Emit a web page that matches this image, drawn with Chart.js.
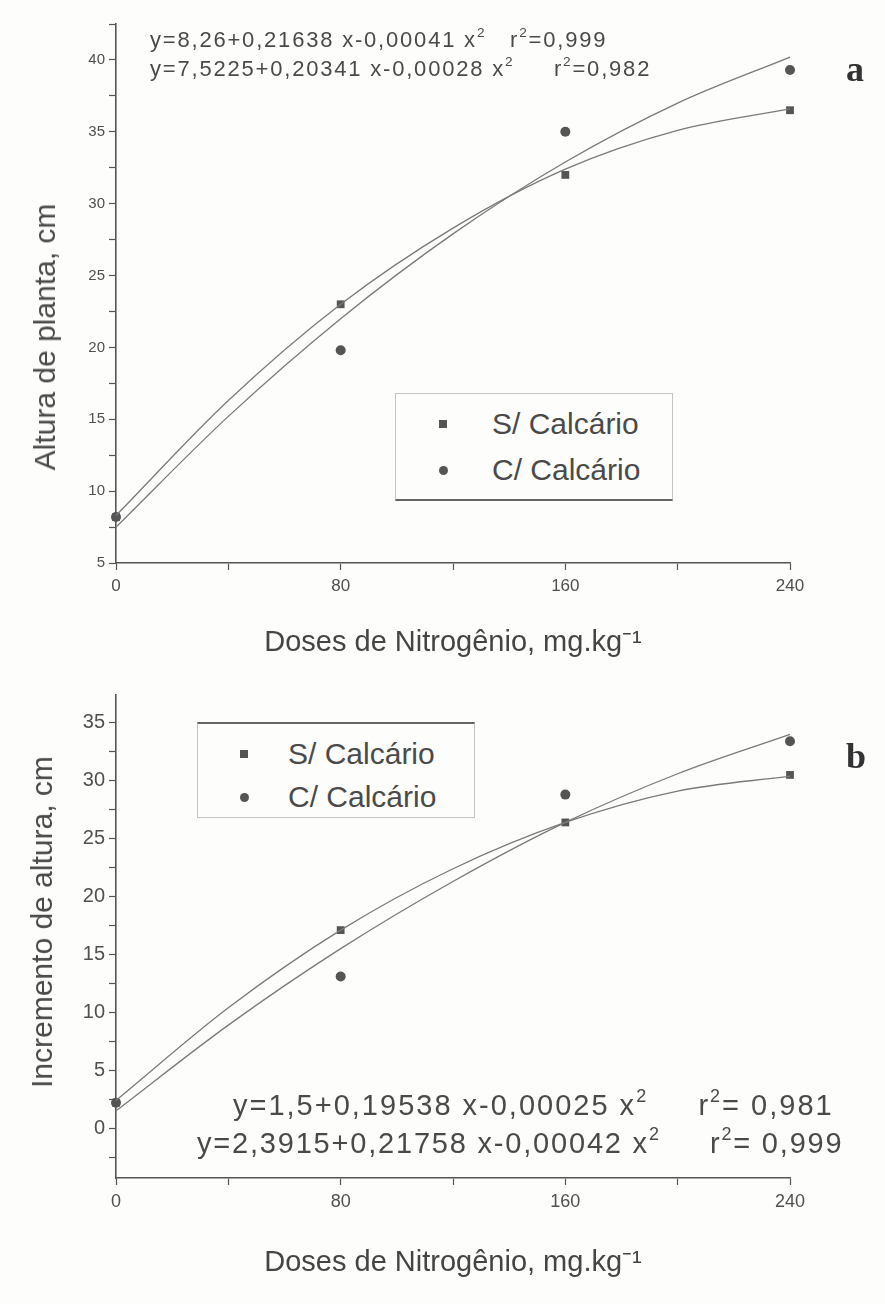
<!DOCTYPE html>
<html>
<head>
<meta charset="utf-8">
<script src="https://cdn.jsdelivr.net/npm/chart.js@4.4.0/dist/chart.umd.min.js"></script>
<style>
  body { margin: 0; background: #fdfdfb; width: 885px; height: 1304px; position: relative; overflow: hidden;
         font-family: "Liberation Sans", Arial, sans-serif; color: #4a4a4a; }
  canvas { position: absolute; left: 0; }
  #chartA { top: 0; }
  #chartB { top: 660px; }
  .eq { position: absolute; white-space: pre; line-height: 1; }
  .eq sup { font-size: 62%; vertical-align: 0.7em; line-height: 0; }
  .letter { position: absolute; font-family: "Liberation Serif", serif; font-weight: bold; font-size: 36px; color: #333; }
  .ytitle { position: absolute; white-space: pre; transform: translate(-50%, -50%) rotate(-90deg); font-size: 30px; }
  .legend { position: absolute; background: #fdfdfb; border: 1px solid #c4c4c4; box-sizing: border-box; }
  .legend .row { position: absolute; font-size: 30px; white-space: pre; line-height: 1; }
  .mk { position: absolute; background: #555; }
</style>
</head>
<body>
<canvas id="chartA" width="885" height="660"></canvas>
<canvas id="chartB" width="885" height="644"></canvas>

<div class="ytitle" style="left:45px; top:337px;">Altura de planta, cm</div>
<div class="ytitle" style="left:42px; top:922px;">Incremento de altura, cm</div>

<div class="eq" style="left:150px; top:29px; font-size:22px; letter-spacing:1.8px;">y=8,26+0,21638 x-0,00041 x<sup>2</sup>   r<sup>2</sup>=0,999</div>
<div class="eq" style="left:150px; top:58px; font-size:22px; letter-spacing:1.8px;">y=7,5225+0,20341 x-0,00028 x<sup>2</sup>     r<sup>2</sup>=0,982</div>
<div class="letter" style="left:846px; top:48px;">a</div>

<div class="eq" style="left:233px; top:1091px; font-size:29px; letter-spacing:2px;">y=1,5+0,19538 x-0,00025 x<sup>2</sup>     r<sup>2</sup>= 0,981</div>
<div class="eq" style="left:197px; top:1129px; font-size:29px; letter-spacing:1.8px;">y=2,3915+0,21758 x-0,00042 x<sup>2</sup>     r<sup>2</sup>= 0,999</div>
<div class="letter" style="left:846px; top:735px;">b</div>

<div class="legend" style="left:395px; top:393px; width:278px; height:108px; border-bottom:2px solid #666;">
  <div class="mk" style="left:43px; top:26px; width:8px; height:8px;"></div>
  <div class="row" style="left:96px; top:15px;">S/ Calcário</div>
  <div class="mk" style="left:43px; top:72px; width:9px; height:9px; border-radius:50%;"></div>
  <div class="row" style="left:96px; top:61px;">C/ Calcário</div>
</div>
<div class="legend" style="left:197px; top:722px; width:278px; height:96px; border-top:2px solid #666;">
  <div class="mk" style="left:42px; top:26px; width:8px; height:8px;"></div>
  <div class="row" style="left:90px; top:15px;">S/ Calcário</div>
  <div class="mk" style="left:42px; top:69px; width:9px; height:9px; border-radius:50%;"></div>
  <div class="row" style="left:90px; top:58px;">C/ Calcário</div>
</div>

<script>
// doses de N (mg/kg) e leituras do gráfico
const doses = [0, 80, 160, 240];
const curveDoses = [0, 40, 80, 120, 160, 200, 240];
const xTickLabels = [0, 80, 160, 240];

// painel a - altura de planta (cm)
const alturaSem = [8.2, 23.0, 32.0, 36.5];
const alturaCom = [8.2, 19.8, 35.0, 39.3];
const alturaSemAjuste = [8.3, 16.3, 23.0, 28.3, 32.4, 35.1, 36.6];
const alturaComAjuste = [7.5, 15.2, 22.0, 27.9, 32.9, 37.0, 40.2];

// painel b - incremento de altura (cm)
const incrSem = [2.2, 17.1, 26.4, 30.5];
const incrCom = [2.2, 13.1, 28.8, 33.4];
const incrSemAjuste = [2.4, 10.4, 17.1, 22.4, 26.4, 29.1, 30.4];
const incrComAjuste = [1.5, 8.9, 15.5, 21.3, 26.4, 30.6, 34.0];

const ink = '#555';
const font = "'Liberation Sans', Arial, sans-serif";

function pairs(xs, ys) {
    return xs.map((x, i) => ({ x: x, y: ys[i] }));
}

function pointSet(label, xs, ys, style) {
    return {
        type: 'scatter',
        label: label,
        data: pairs(xs, ys),
        pointStyle: style,
        pointRadius: style === 'rect' ? 5.5 : 5,
        backgroundColor: ink,
        borderColor: ink,
        borderWidth: 0,
        clip: false
    };
}

function curveSet(xs, ys) {
    return {
        type: 'line',
        data: pairs(xs, ys),
        borderColor: '#7a7a7a',
        borderWidth: 1.3,
        pointRadius: 0,
        cubicInterpolationMode: 'monotone',
        fill: false,
        clip: false
    };
}

function makePanel(id, opt) {
    return new Chart(document.getElementById(id), {
        data: {
            datasets: [
                curveSet(curveDoses, opt.curveSem),
                curveSet(curveDoses, opt.curveCom),
                pointSet('S/ Calcário', doses, opt.sem, 'rect'),
                pointSet('C/ Calcário', doses, opt.com, 'circle')
            ]
        },
        options: {
            responsive: false,
            animation: false,
            layout: { padding: { top: opt.top, right: 95, left: 0, bottom: 0 } },
            plugins: { legend: { display: false }, tooltip: { enabled: false } },
            scales: {
                x: {
                    type: 'linear',
                    min: 0,
                    max: 240,
                    afterFit: s => { s.height = opt.xHeight; },
                    border: { color: ink, width: 1.6 },
                    grid: { drawOnChartArea: false, tickLength: 7, tickColor: ink, tickWidth: 1.2 },
                    ticks: {
                        stepSize: 40,
                        autoSkip: false,
                        maxRotation: 0,
                        padding: 6,
                        color: '#505050',
                        font: { family: font, size: opt.xTickSize },
                        callback: v => xTickLabels.includes(v) ? v : ''
                    },
                    title: {
                        display: true,
                        text: 'Doses de Nitrogênio, mg.kg⁻¹',
                        color: '#454545',
                        font: { family: font, size: 29 },
                        padding: { top: 0, bottom: opt.titlePad }
                    }
                },
                y: {
                    type: 'linear',
                    min: opt.yMin,
                    max: opt.yMax,
                    afterFit: s => { s.width = 116; },
                    border: { color: ink, width: 1.6 },
                    grid: { drawOnChartArea: false, tickLength: 7, tickColor: ink, tickWidth: 1.2 },
                    ticks: {
                        stepSize: 2.5,
                        includeBounds: false,
                        autoSkip: false,
                        padding: 4,
                        color: '#505050',
                        font: { family: font, size: opt.yTickSize },
                        callback: v => v % 5 === 0 ? v : ''
                    }
                }
            }
        }
    });
}

makePanel('chartA', {
    sem: alturaSem, com: alturaCom,
    curveSem: alturaSemAjuste, curveCom: alturaComAjuste,
    yMin: 5, yMax: 42.5, top: 24, xHeight: 97, titlePad: 0,
    xTickSize: 17, yTickSize: 15
});

makePanel('chartB', {
    sem: incrSem, com: incrCom,
    curveSem: incrSemAjuste, curveCom: incrComAjuste,
    yMin: -4.3, yMax: 37.4, top: 35, xHeight: 126, titlePad: 24,
    xTickSize: 18, yTickSize: 20
});
</script>
</body>
</html>
